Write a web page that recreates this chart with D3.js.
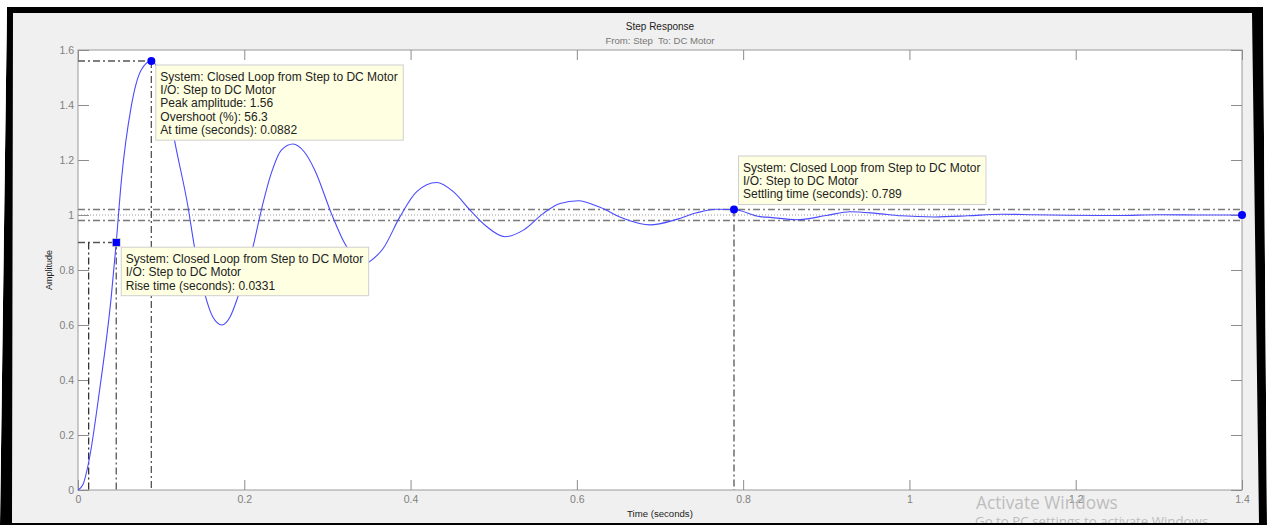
<!DOCTYPE html>
<html>
<head>
<meta charset="utf-8">
<script src="https://cdn.jsdelivr.net/npm/d3@7"></script>
<style>
  body { margin: 0; background: #fff; }
  svg { display: block; font-family: "Liberation Sans", Arial, sans-serif; }
</style>
</head>
<body>
<div id="chart"></div>
<script>
// step response samples
var timeSec = [0, 0.006, 0.0128, 0.026, 0.040, 0.046, 0.052, 0.064, 0.076, 0.0882, 0.100, 0.108,
  0.116, 0.1323, 0.140, 0.1523, 0.162, 0.1732, 0.183, 0.1924, 0.2105, 0.2205, 0.2325, 0.2446,
  0.2586, 0.272, 0.2847, 0.3047, 0.3207, 0.333, 0.343, 0.3488, 0.3672, 0.3873, 0.4074, 0.4314,
  0.4514, 0.4715, 0.4915, 0.5136, 0.5357, 0.5597, 0.5797, 0.6018, 0.6278, 0.6558, 0.688, 0.72,
  0.744, 0.768, 0.789, 0.8203, 0.8323, 0.864, 0.90, 0.9285, 0.96, 0.99, 1.03, 1.07, 1.11, 1.15,
  1.19, 1.25, 1.30, 1.35, 1.40];
var amplitude = [0, 0.02, 0.1, 0.364, 0.703, 0.9, 1.12, 1.394, 1.527, 1.56, 1.50, 1.41,
  1.273, 1.03, 0.885, 0.715, 0.63, 0.60, 0.63, 0.703, 0.885, 1.018, 1.152, 1.236,
  1.258, 1.23, 1.164, 1.006, 0.897, 0.84, 0.815, 0.826, 0.879, 0.994, 1.085, 1.118,
  1.085, 1.018, 0.958, 0.921, 0.945, 1.006, 1.042, 1.052, 1.028, 0.988, 0.964, 0.984,
  1.008, 1.021, 1.02, 0.994, 0.9915, 0.983, 0.998, 1.012, 1.006, 0.997, 0.993, 0.997, 1.003, 1.001,
  0.999, 0.998, 1.001, 1.0, 1.0];

var xTickVals = [0, 0.2, 0.4, 0.6, 0.8, 1, 1.2, 1.4];
var yTickVals = [0, 0.2, 0.4, 0.6, 0.8, 1, 1.2, 1.4, 1.6];

var peakPoint = [0.0882, 1.56];
var risePoint = [0.046, 0.9];
var riseTimes = [0.0128, 0.046];
var settlePoint = [0.789, 1.02];
var finalPoint = [1.4, 1.0];
var settleBand = [0.98, 1.02];
var finalValue = 1.0;

var peakTip = ["System: Closed Loop from Step to DC Motor", "I/O: Step to DC Motor",
  "Peak amplitude: 1.56", "Overshoot (%): 56.3", "At time (seconds): 0.0882"];
var riseTip = ["System: Closed Loop from Step to DC Motor", "I/O: Step to DC Motor",
  "Rise time (seconds): 0.0331"];
var settleTip = ["System: Closed Loop from Step to DC Motor", "I/O: Step to DC Motor",
  "Settling time (seconds): 0.789"];

var W = 1267, H = 525;
var plotL = 78, plotR = 1242, plotT = 50, plotB = 490;

var svg = d3.select("#chart").append("svg")
  .attr("width", W).attr("height", H);

// grey figure background
svg.append("rect").attr("x", 0).attr("y", 0).attr("width", W).attr("height", H).attr("fill", "#f0f0f0");

var x = d3.scaleLinear().domain([0, 1.4]).range([plotL, plotR]);
var y = d3.scaleLinear().domain([0, 1.6]).range([plotB, plotT]);

svg.append("rect")
  .attr("x", plotL).attr("y", plotT)
  .attr("width", plotR - plotL).attr("height", plotB - plotT)
  .attr("fill", "#fff").attr("stroke", "#9a9a9a").attr("stroke-width", 1);

var fmt = function(d){ return String(+d.toFixed(1)); };

function styleAxis(g){
  g.select(".domain").remove();
  g.selectAll(".tick line").attr("stroke", "#8c8c8c");
  g.selectAll(".tick text").attr("fill", "#808080").style("font-size", "10.5px")
    .style("font-family", "'Liberation Sans', Arial, sans-serif");
}

svg.append("g").attr("transform", "translate(0," + plotB + ")")
  .call(d3.axisBottom(x).tickValues(xTickVals).tickFormat(fmt).tickSize(-10).tickPadding(6))
  .call(styleAxis);
svg.append("g").attr("transform", "translate(0," + plotT + ")")
  .call(d3.axisTop(x).tickValues(xTickVals).tickFormat("").tickSize(-10))
  .call(styleAxis);
svg.append("g").attr("transform", "translate(" + plotL + ",0)")
  .call(d3.axisLeft(y).tickValues(yTickVals).tickFormat(fmt).tickSize(-11).tickPadding(4))
  .call(styleAxis);
svg.append("g").attr("transform", "translate(" + plotR + ",0)")
  .call(d3.axisRight(y).tickValues(yTickVals).tickFormat("").tickSize(-11))
  .call(styleAxis);

// settling band and final value
svg.selectAll(".band").data(settleBand).enter().append("line")
  .attr("x1", x(0)).attr("x2", x(1.4))
  .attr("y1", function(d){ return y(d); }).attr("y2", function(d){ return y(d); })
  .attr("stroke", "#7a7a7a").attr("stroke-width", 1.4)
  .attr("stroke-dasharray", "7,3,2,3");
svg.append("line")
  .attr("x1", x(0)).attr("x2", x(1.4))
  .attr("y1", y(finalValue)).attr("y2", y(finalValue))
  .attr("stroke", "#9a9a9a").attr("stroke-width", 1)
  .attr("stroke-dasharray", "1,2");

// characteristic guide lines
var guides = [
  [[0, peakPoint[1]], peakPoint],
  [peakPoint, [peakPoint[0], 0]],
  [[0, risePoint[1]], risePoint],
  [[riseTimes[0], risePoint[1]], [riseTimes[0], 0]],
  [risePoint, [risePoint[0], 0]],
  [settlePoint, [settlePoint[0], 0]]
];
svg.selectAll(".guide").data(guides).enter().append("line")
  .attr("x1", function(d){ return x(d[0][0]); }).attr("y1", function(d){ return y(d[0][1]); })
  .attr("x2", function(d){ return x(d[1][0]); }).attr("y2", function(d){ return y(d[1][1]); })
  .attr("stroke", function(d, i){ return i == 3 ? "#333" : "#555"; })
  .attr("stroke-width", 1.3)
  .attr("stroke-dasharray", "7,3,2,3");

// response curve
var line = d3.line()
  .x(function(d){ return x(d[0]); })
  .y(function(d){ return y(d[1]); })
  .curve(d3.curveMonotoneX);
svg.append("path")
  .datum(d3.zip(timeSec, amplitude))
  .attr("d", line)
  .attr("fill", "none")
  .attr("stroke", "#4a4aff")
  .attr("stroke-width", 1.1);

// markers
svg.selectAll(".dot").data([peakPoint, settlePoint, finalPoint]).enter().append("circle")
  .attr("cx", function(d){ return x(d[0]); }).attr("cy", function(d){ return y(d[1]); })
  .attr("r", 4).attr("fill", "#0000ff");
svg.append("rect")
  .attr("x", x(risePoint[0]) - 4).attr("y", y(risePoint[1]) - 4)
  .attr("width", 8).attr("height", 8)
  .attr("fill", "#0000ff").attr("stroke", "#f5f0a0").attr("stroke-width", 0.6);

// data tips
function dataTip(pt, lines, dx, dy, above){
  var g = svg.append("g");
  var lh = 13.33;
  var h = lines.length * lh + 8.5;
  var bx = x(pt[0]) + dx;
  var by = above ? y(pt[1]) - dy - h : y(pt[1]) + dy;
  var box = g.append("rect").attr("x", bx).attr("y", by).attr("height", h)
    .attr("fill", "#ffffe1").attr("stroke", "#cfcfcf").attr("stroke-width", 1);
  var t = g.selectAll("text").data(lines).enter().append("text")
    .attr("x", bx + 4.5)
    .attr("y", function(d, i){ return by + 15.8 + i * lh; })
    .attr("fill", "#222")
    .style("font-size", "12px")
    .text(function(d){ return d; });
  var wmax = 0;
  t.each(function(){ wmax = Math.max(wmax, this.getComputedTextLength()); });
  box.attr("width", wmax + 10);
}
dataTip(peakPoint, peakTip, 4.5, 4, false);
dataTip(risePoint, riseTip, 5, 4.7, false);
dataTip(settlePoint, settleTip, 4.5, 5, true);

// titles
svg.append("text").attr("x", (plotL + plotR) / 2).attr("y", 29.6)
  .attr("text-anchor", "middle").attr("fill", "#222").style("font-size", "10px")
  .text("Step Response");
svg.append("text").attr("x", (plotL + plotR) / 2).attr("y", 43.6)
  .attr("text-anchor", "middle").attr("fill", "#777").style("font-size", "9.6px")
  .style("white-space", "pre")
  .text("From: Step  To: DC Motor");
svg.append("text").attr("x", (plotL + plotR) / 2).attr("y", 516.5)
  .attr("text-anchor", "middle").attr("fill", "#222").style("font-size", "9.6px")
  .text("Time (seconds)");
svg.append("text")
  .attr("transform", "translate(51.6," + ((plotT + plotB) / 2) + ") rotate(-90)")
  .attr("text-anchor", "middle").attr("fill", "#222").style("font-size", "9px")
  .text("Amplitude");

// windows watermark
svg.append("text").attr("x", 976).attr("y", 508.5)
  .attr("fill", "#bdbdbd").style("font-family", "'Open Sans', 'Noto Sans', sans-serif")
  .style("font-size", "17.3px").text("Activate Windows");
svg.append("text").attr("x", 975).attr("y", 526)
  .attr("fill", "#bdbdbd").style("font-family", "'Open Sans', 'Noto Sans', sans-serif")
  .style("font-size", "13.3px").text("Go to PC settings to activate Windows");

// black screenshot frame
svg.append("path")
  .attr("fill-rule", "evenodd")
  .attr("fill", "#000")
  .attr("d", "M7,7 L1263,7 L1267,525 L0,525 Z M13,13 L1252,13 L1259,523 L12,523 Z");
svg.append("path")
  .attr("fill", "#fff")
  .attr("d", "M0,0 L1267,0 L1267,7 L0,7 Z M0,0 L7,7 L0,525 Z M1263,7 L1267,7 L1267,525 Z");
</script>
</body>
</html>
